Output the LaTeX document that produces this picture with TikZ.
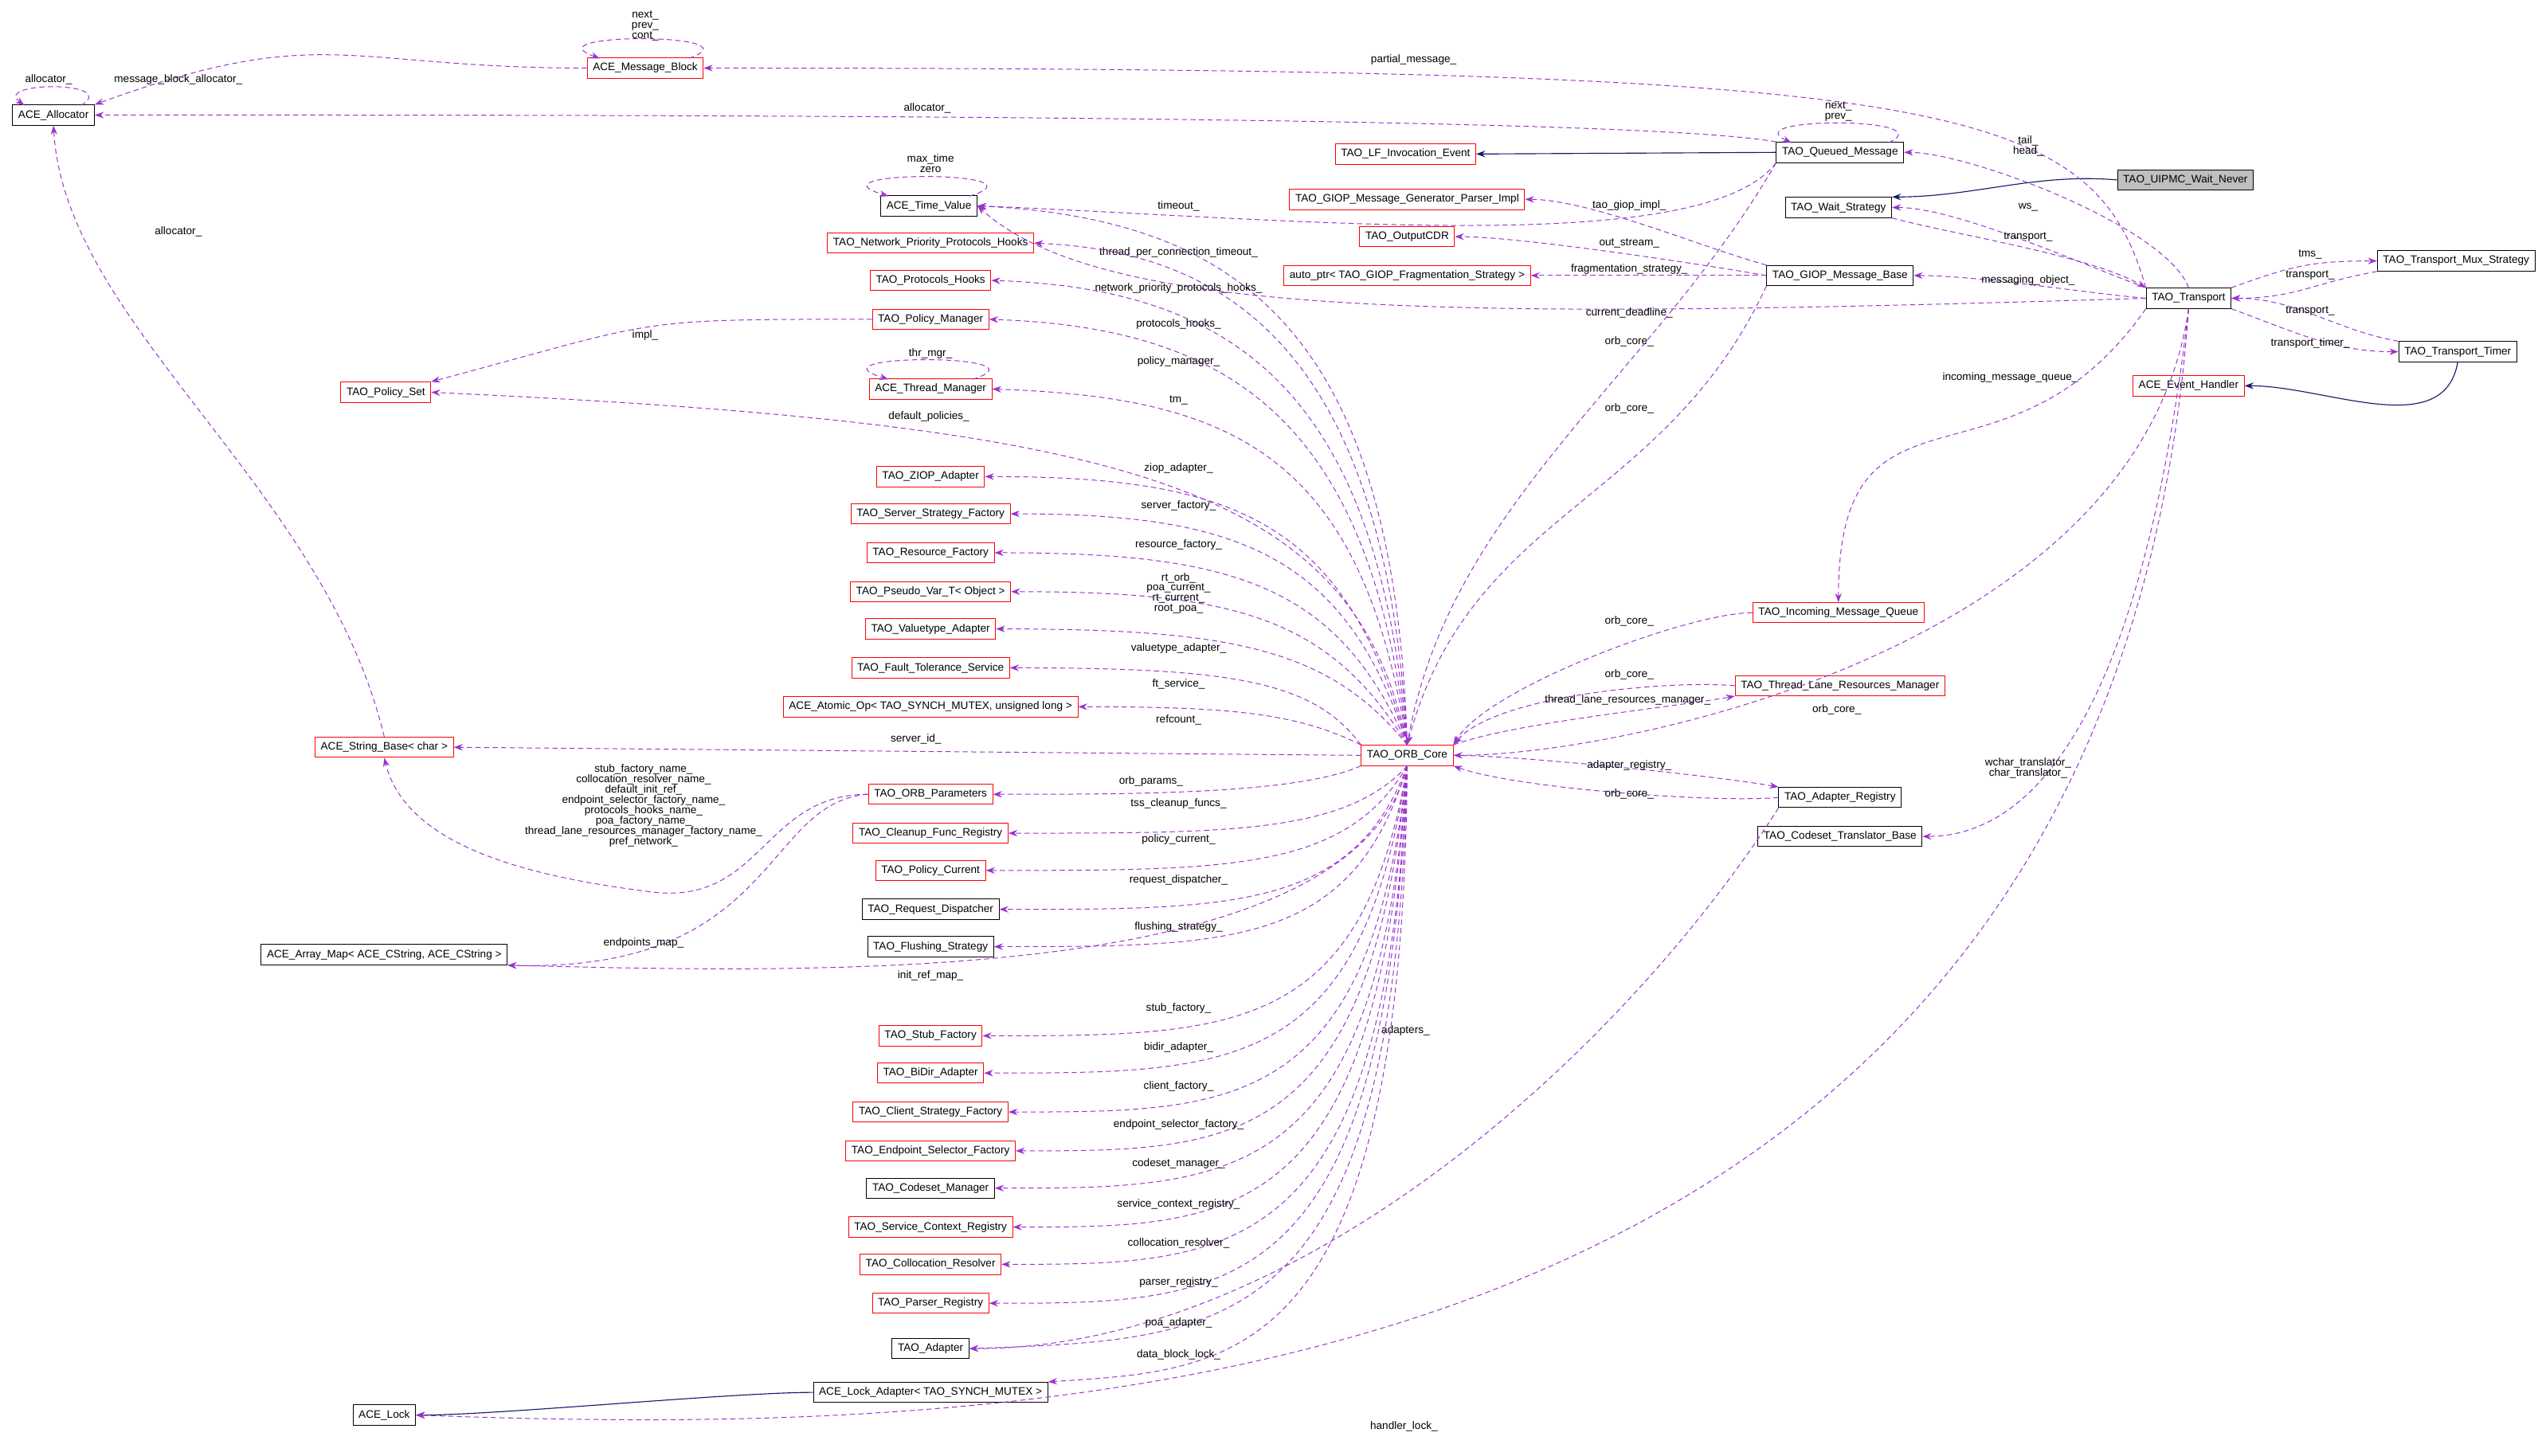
\documentclass[tikz,border=0pt]{standalone}
\usepackage{fontspec}
\setmainfont{Liberation Sans}
\usetikzlibrary{arrows.meta}
\begin{document}
\begin{tikzpicture}[x=0.1cm,y=0.1cm,
  font=\fontsize{19}{22}\selectfont,
  box/.style={draw,line width=1.4pt,minimum height=1.25cm,inner xsep=0.35cm,inner ysep=0.1cm,fill=white},
  rbox/.style={box,draw=red},
  bbox/.style={box,draw=black},
  edge/.style={draw={rgb,255:red,154;green,50;blue,205},line width=1.4pt,dash pattern=on 9pt off 6pt,-{Stealth[length=0.55cm,width=0.4cm]},distance=15cm},
  sh/.style={distance=4cm},
  inh/.style={draw={rgb,255:red,25;green,25;blue,112},line width=1.6pt,-{Stealth[length=0.55cm,width=0.4cm]},distance=5cm},
  lbl/.style={align=center,inner sep=1pt}]
\useasboundingbox (0,0) rectangle (1568,-898);
% nodes
\node[bbox] (alloc) at (33,-71) {ACE\_Allocator};
\node[rbox] (mb) at (398,-42) {ACE\_Message\_Block};
\node[rbox] (lf) at (867,-95) {TAO\_LF\_Invocation\_Event};
\node[bbox] (qm) at (1135,-94) {TAO\_Queued\_Message};
\node[box,draw=black,fill={rgb,255:red,191;green,191;blue,191}] (uipmc) at (1348,-111) {TAO\_UIPMC\_Wait\_Never};
\node[bbox] (ws) at (1134,-128) {TAO\_Wait\_Strategy};
\node[bbox] (tv) at (573,-127) {ACE\_Time\_Value};
\node[rbox] (gmg) at (868,-123) {TAO\_GIOP\_Message\_Generator\_Parser\_Impl};
\node[rbox] (npph) at (574,-150) {TAO\_Network\_Priority\_Protocols\_Hooks};
\node[rbox] (ocdr) at (868,-146) {TAO\_OutputCDR};
\node[rbox] (ph) at (574,-173) {TAO\_Protocols\_Hooks};
\node[rbox] (ap) at (868,-170) {auto\_ptr< TAO\_GIOP\_Fragmentation\_Strategy >};
\node[bbox] (gmb) at (1135,-170) {TAO\_GIOP\_Message\_Base};
\node[bbox] (tr) at (1350,-184) {TAO\_Transport};
\node[bbox] (mux) at (1515,-161) {TAO\_Transport\_Mux\_Strategy};
\node[rbox] (pm) at (574,-197) {TAO\_Policy\_Manager};
\node[bbox] (tt) at (1516,-217) {TAO\_Transport\_Timer};
\node[rbox] (aeh) at (1350,-238) {ACE\_Event\_Handler};
\node[rbox] (ps) at (238,-242) {TAO\_Policy\_Set};
\node[rbox] (tm) at (574,-240) {ACE\_Thread\_Manager};
\node[rbox] (ziop) at (574,-294) {TAO\_ZIOP\_Adapter};
\node[rbox] (ssf) at (574,-317) {TAO\_Server\_Strategy\_Factory};
\node[rbox] (rf) at (574,-341) {TAO\_Resource\_Factory};
\node[rbox] (pv) at (574,-365) {TAO\_Pseudo\_Var\_T< Object >};
\node[rbox] (va) at (574,-388) {TAO\_Valuetype\_Adapter};
\node[rbox] (ft) at (574,-412) {TAO\_Fault\_Tolerance\_Service};
\node[rbox] (ao) at (574,-436) {ACE\_Atomic\_Op< TAO\_SYNCH\_MUTEX, unsigned long >};
\node[rbox] (imq) at (1134,-378) {TAO\_Incoming\_Message\_Queue};
\node[rbox] (tlrm) at (1135,-423) {TAO\_Thread\_Lane\_Resources\_Manager};
\node[rbox] (sb) at (237,-461) {ACE\_String\_Base< char >};
\node[rbox] (orb) at (868,-466) {TAO\_ORB\_Core};
\node[bbox] (ar) at (1135,-492) {TAO\_Adapter\_Registry};
\node[rbox] (op) at (574,-490) {TAO\_ORB\_Parameters};
\node[bbox] (ctb) at (1135,-516) {TAO\_Codeset\_Translator\_Base};
\node[rbox] (cfr) at (574,-514) {TAO\_Cleanup\_Func\_Registry};
\node[rbox] (pc) at (574,-537) {TAO\_Policy\_Current};
\node[bbox] (rd) at (574,-561) {TAO\_Request\_Dispatcher};
\node[bbox] (fs) at (574,-584) {TAO\_Flushing\_Strategy};
\node[bbox] (am) at (237,-589) {ACE\_Array\_Map< ACE\_CString, ACE\_CString >};
\node[rbox] (sf) at (574,-639) {TAO\_Stub\_Factory};
\node[rbox] (bd) at (574,-662) {TAO\_BiDir\_Adapter};
\node[rbox] (csf) at (574,-686) {TAO\_Client\_Strategy\_Factory};
\node[rbox] (esf) at (574,-710) {TAO\_Endpoint\_Selector\_Factory};
\node[bbox] (cm) at (574,-733) {TAO\_Codeset\_Manager};
\node[rbox] (scr) at (574,-757) {TAO\_Service\_Context\_Registry};
\node[rbox] (cr) at (574,-780) {TAO\_Collocation\_Resolver};
\node[rbox] (pr) at (574,-804) {TAO\_Parser\_Registry};
\node[bbox] (ad) at (574,-832) {TAO\_Adapter};
\node[bbox] (la) at (574,-859) {ACE\_Lock\_Adapter< TAO\_SYNCH\_MUTEX >};
\node[bbox] (lock) at (237,-873) {ACE\_Lock};
% inheritance
\draw[inh] (uipmc.west) to[out=175,in=0] (ws.north east);
\draw[inh] (qm.west) -- (lf.east);
\draw[inh] (tt.south) to[out=-100,in=0] (aeh.east);
\draw[inh] (la.west) to[out=180,in=0] (lock.east);
% self loops
\draw[edge] (50,-65) .. controls (75,-50) and (-5,-50) .. (15,-65);
\node[lbl] at (30,-49) {allocator\_};
\draw[edge] (425,-36) .. controls (470,-20) and (325,-20) .. (370,-36);
\node[lbl] at (398,-16) {next\_\\[-4pt]prev\_\\[-4pt]cont\_};
\draw[edge] (1165,-88) .. controls (1200,-72) and (1070,-72) .. (1105,-88);
\node[lbl] at (1134,-69) {next\_\\[-4pt]prev\_};
\draw[edge] (598,-121) .. controls (650,-105) and (495,-105) .. (548,-121);
\node[lbl] at (574,-101) {max\_time\\[-4pt]zero};
\draw[edge] (600,-234) .. controls (650,-218) and (495,-218) .. (548,-234);
\node[lbl] at (574,-218) {thr\_mgr\_};
% top edges
\draw[edge] (mb.west) to[out=180,in=20] (alloc.north east);
\node[lbl] at (110,-49) {message\_block\_allocator\_};
\draw[edge] (qm.north west) .. controls (1000,-70) and (300,-71) .. (alloc.east);
\node[lbl] at (572,-67) {allocator\_};
\draw[edge] (sb.north) .. controls (200,-300) and (40,-200) .. (alloc.south);
\node[lbl] at (110,-143) {allocator\_};
\draw[edge] (tr.north west) .. controls (1290,-60) and (1200,-42) .. (mb.east);
\node[lbl] at (872,-37) {partial\_message\_};
\draw[edge,sh] (tr.north) to[out=110,in=0] (qm.east);
\node[lbl] at (1251,-90) {tail\_\\[-4pt]head\_};
\draw[edge,sh] (tr.north west) to[out=160,in=0] (ws.east);
\node[lbl] at (1251,-128) {ws\_};
\draw[edge,sh] (ws.south east) to[out=-15,in=150] (tr.north west);
\node[lbl] at (1251,-146) {transport\_};
\draw[edge,sh] (tr.west) to[out=175,in=0] (gmb.east);
\node[lbl] at (1251,-173) {messaging\_object\_};
\draw[edge] (tr.west) .. controls (900,-197) and (680,-197) .. (tv.east);
\node[lbl] at (1005,-193) {current\_deadline\_};
\draw[edge] (qm.south west) .. controls (1050,-160) and (800,-135) .. (tv.east);
\node[lbl] at (727,-127) {timeout\_};
\draw[edge,sh] (tr.north east) to[out=20,in=180] (mux.west);
\node[lbl] at (1425,-157) {tms\_};
\draw[edge,sh] (mux.south west) to[out=190,in=0] (tr.east);
\node[lbl] at (1425,-170) {transport\_};
\draw[edge,sh] (tr.south east) to[out=-20,in=180] (tt.west);
\node[lbl] at (1425,-212) {transport\_timer\_};
\draw[edge,sh] (tt.north west) to[out=170,in=0] (tr.east);
\node[lbl] at (1425,-192) {transport\_};
\draw[edge,sh] (gmb.north west) to[out=165,in=0] (gmg.east);
\node[lbl] at (1005,-127) {tao\_giop\_impl\_};
\draw[edge,sh] (gmb.west) to[out=170,in=0] (ocdr.east);
\node[lbl] at (1005,-150) {out\_stream\_};
\draw[edge,sh] (gmb.west) to[out=180,in=0] (ap.east);
\node[lbl] at (1005,-166) {fragmentation\_strategy\_};
\draw[edge] (pm.west) to[out=180,in=15] (ps.north east);
\node[lbl] at (398,-207) {impl\_};
% right edges to ORB core
\draw[edge] (gmb.south west) to[out=-115,in=75] (orb.north);
\node[lbl] at (1005,-211) {orb\_core\_};
\draw[edge] (qm.south west) to[out=-120,in=80] (orb.north);
\node[lbl] at (1005,-252) {orb\_core\_};
\draw[edge] (tr.south west) to[out=-125,in=90] (imq.north);
\node[lbl] at (1240,-233) {incoming\_message\_queue\_};
\draw[edge,sh] (imq.west) to[out=180,in=60] (orb.north east);
\node[lbl] at (1005,-383) {orb\_core\_};
\draw[edge,sh] (tlrm.west) to[out=175,in=50] (orb.north east);
\node[lbl] at (1005,-416) {orb\_core\_};
\draw[edge,sh] (orb.north east) to[out=20,in=190] (tlrm.south west);
\node[lbl] at (1004,-432) {thread\_lane\_resources\_manager\_};
\draw[edge] (tr.south) .. controls (1320,-400) and (1000,-466) .. (orb.east);
\node[lbl] at (1133,-438) {orb\_core\_};
\draw[edge,sh] (orb.east) to[out=0,in=170] (ar.north west);
\node[lbl] at (1005,-472) {adapter\_registry\_};
\draw[edge,sh] (ar.west) to[out=185,in=-20] (orb.south east);
\node[lbl] at (1005,-490) {orb\_core\_};
\draw[edge] (ar.south west) .. controls (1000,-650) and (800,-832) .. (ad.east);
\node[lbl] at (867,-636) {adapters\_};
\draw[edge] (tr.south) .. controls (1320,-450) and (1250,-516) .. (ctb.east);
\node[lbl] at (1251,-474) {wchar\_translator\_\\[-4pt]char\_translator\_};
\draw[edge] (tr.south) .. controls (1300,-890) and (600,-885) .. (lock.east);
\node[lbl] at (866,-880) {handler\_lock\_};
% ORB core to upper left
\draw[edge] (orb.north) .. controls (860,-200) and (760,-135) .. (tv.east);
\node[lbl] at (727,-156) {thread\_per\_connection\_timeout\_};
\draw[edge] (orb.north) .. controls (855,-220) and (760,-155) .. (npph.east);
\node[lbl] at (727,-178) {network\_priority\_protocols\_hooks\_};
\draw[edge] (orb.north) .. controls (850,-240) and (760,-178) .. (ph.east);
\node[lbl] at (727,-200) {protocols\_hooks\_};
\draw[edge] (orb.north) .. controls (845,-260) and (760,-202) .. (pm.east);
\node[lbl] at (727,-223) {policy\_manager\_};
\draw[edge] (orb.north) .. controls (840,-280) and (760,-245) .. (tm.east);
\node[lbl] at (727,-247) {tm\_};
\draw[edge] (orb.north) .. controls (835,-300) and (700,-262) .. (ps.east);
\node[lbl] at (573,-257) {default\_policies\_};
\draw[edge] (orb.north) .. controls (830,-320) and (760,-294) .. (ziop.east);
\node[lbl] at (727,-289) {ziop\_adapter\_};
\draw[edge] (orb.north) .. controls (830,-340) and (760,-317) .. (ssf.east);
\node[lbl] at (727,-312) {server\_factory\_};
\draw[edge] (orb.north) .. controls (825,-360) and (760,-341) .. (rf.east);
\node[lbl] at (727,-336) {resource\_factory\_};
\draw[edge] (orb.north) .. controls (820,-380) and (760,-365) .. (pv.east);
\node[lbl] at (727,-366) {rt\_orb\_\\[-4pt]poa\_current\_\\[-4pt]rt\_current\_\\[-4pt]root\_poa\_};
\draw[edge] (orb.north) .. controls (820,-400) and (760,-388) .. (va.east);
\node[lbl] at (727,-400) {valuetype\_adapter\_};
\draw[edge] (orb.north west) .. controls (810,-420) and (760,-412) .. (ft.east);
\node[lbl] at (727,-422) {ft\_service\_};
\draw[edge] (orb.north west) .. controls (800,-440) and (760,-436) .. (ao.east);
\node[lbl] at (727,-444) {refcount\_};
\draw[edge] (orb.west) -- (sb.east);
\node[lbl] at (565,-456) {server\_id\_};
% ORB core to lower left
\draw[edge] (orb.south west) .. controls (800,-490) and (700,-490) .. (op.east);
\node[lbl] at (710,-482) {orb\_params\_};
\draw[edge] (orb.south) .. controls (830,-514) and (760,-514) .. (cfr.east);
\node[lbl] at (727,-496) {tss\_cleanup\_funcs\_};
\draw[edge] (orb.south) .. controls (830,-537) and (760,-537) .. (pc.east);
\node[lbl] at (727,-518) {policy\_current\_};
\draw[edge] (orb.south) .. controls (835,-561) and (760,-561) .. (rd.east);
\node[lbl] at (727,-543) {request\_dispatcher\_};
\draw[edge] (orb.south) .. controls (835,-584) and (760,-584) .. (fs.east);
\node[lbl] at (727,-572) {flushing\_strategy\_};
\draw[edge] (orb.south) .. controls (835,-610) and (500,-600) .. (am.south east);
\node[lbl] at (574,-602) {init\_ref\_map\_};
\draw[edge] (orb.south) .. controls (840,-639) and (760,-639) .. (sf.east);
\node[lbl] at (727,-622) {stub\_factory\_};
\draw[edge] (orb.south) .. controls (840,-662) and (760,-662) .. (bd.east);
\node[lbl] at (727,-646) {bidir\_adapter\_};
\draw[edge] (orb.south) .. controls (845,-686) and (760,-686) .. (csf.east);
\node[lbl] at (727,-670) {client\_factory\_};
\draw[edge] (orb.south) .. controls (845,-710) and (760,-710) .. (esf.east);
\node[lbl] at (727,-694) {endpoint\_selector\_factory\_};
\draw[edge] (orb.south) .. controls (850,-733) and (760,-733) .. (cm.east);
\node[lbl] at (727,-718) {codeset\_manager\_};
\draw[edge] (orb.south) .. controls (850,-757) and (760,-757) .. (scr.east);
\node[lbl] at (727,-743) {service\_context\_registry\_};
\draw[edge] (orb.south) .. controls (855,-780) and (760,-780) .. (cr.east);
\node[lbl] at (727,-767) {collocation\_resolver\_};
\draw[edge] (orb.south) .. controls (855,-804) and (760,-804) .. (pr.east);
\node[lbl] at (727,-791) {parser\_registry\_};
\draw[edge] (orb.south) .. controls (860,-826) and (760,-826) .. (ad.east);
\node[lbl] at (727,-816) {poa\_adapter\_};
\draw[edge] (orb.south) .. controls (865,-845) and (760,-845) .. (la.north east);
\node[lbl] at (727,-836) {data\_block\_lock\_};
% ORB params edges
\draw[edge] (op.west) .. controls (470,-490) and (470,-560) .. (400,-550) .. controls (320,-540) and (250,-520) .. (sb.south);
\node[lbl] at (397,-497) {stub\_factory\_name\_\\[-4pt]collocation\_resolver\_name\_\\[-4pt]default\_init\_ref\_\\[-4pt]endpoint\_selector\_factory\_name\_\\[-4pt]protocols\_hooks\_name\_\\[-4pt]poa\_factory\_name\_\\[-4pt]thread\_lane\_resources\_manager\_factory\_name\_\\[-4pt]pref\_network\_};
\draw[edge] (op.west) .. controls (470,-495) and (480,-600) .. (am.south east);
\node[lbl] at (397,-582) {endpoints\_map\_};
\end{tikzpicture}
\end{document}
